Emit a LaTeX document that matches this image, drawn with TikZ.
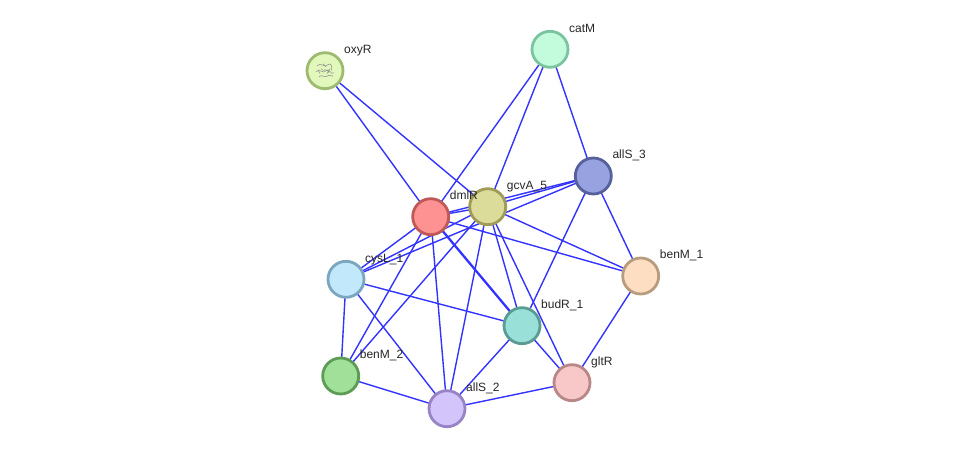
\documentclass[tikz,border=0pt]{standalone}
\usepackage{fontspec}
\setmainfont{Liberation Sans}
\usetikzlibrary{backgrounds}
\definecolor{edgeblue}{HTML}{3333FF}
\definecolor{oxyRd}{HTML}{9DBB6E}\definecolor{oxyRf}{HTML}{E2F7BC}
\definecolor{catMd}{HTML}{7CC4A0}\definecolor{catMf}{HTML}{C2FCDC}
\definecolor{allSthd}{HTML}{56619C}\definecolor{allSthf}{HTML}{98A2E0}
\definecolor{dmlRd}{HTML}{C05858}\definecolor{dmlRf}{HTML}{FE9292}
\definecolor{gcvAd}{HTML}{A09C58}\definecolor{gcvAf}{HTML}{DCDC9A}
\definecolor{cysLd}{HTML}{7BA6C0}\definecolor{cysLf}{HTML}{C2E8FC}
\definecolor{benMod}{HTML}{B89C80}\definecolor{benMof}{HTML}{FEDEC2}
\definecolor{budRd}{HTML}{5A9C94}\definecolor{budRf}{HTML}{98E0D8}
\definecolor{benMtd}{HTML}{5C9C54}\definecolor{benMtf}{HTML}{A0E098}
\definecolor{gltRd}{HTML}{B88888}\definecolor{gltRf}{HTML}{F8C8C8}
\definecolor{allStwd}{HTML}{9884C4}\definecolor{allStwf}{HTML}{D4C4FC}
\tikzset{
  prot/.style={circle, minimum size=36pt, inner sep=0pt, line width=2.8pt},
  lbl/.style={anchor=base west, font=\fontsize{12pt}{14pt}\selectfont, text=black!85, inner sep=0pt},
  link/.style={draw=edgeblue, line width=1.4pt},
  strong/.style={draw=edgeblue, line width=2.3pt}
}
\begin{document}
\begin{tikzpicture}[x=1pt,y=-1pt]
\useasboundingbox (0,0) rectangle (975,454);
% nodes
\node[prot, draw=oxyRd, fill=oxyRf] (oxyR) at (325,70.7) {};
\node[prot, draw=catMd, fill=catMf] (catM) at (550,49.3) {};
\node[prot, draw=allSthd, fill=allSthf] (allS3) at (593.3,176) {};
\node[prot, draw=dmlRd, fill=dmlRf] (dmlR) at (430.7,216.7) {};
\node[prot, draw=gcvAd, fill=gcvAf] (gcvA) at (487.7,206.7) {};
\node[prot, draw=cysLd, fill=cysLf] (cysL) at (346,279.3) {};
\node[prot, draw=benMod, fill=benMof] (benM1) at (640.7,276) {};
\node[prot, draw=budRd, fill=budRf] (budR) at (522,325.7) {};
\node[prot, draw=benMtd, fill=benMtf] (benM2) at (340.7,376) {};
\node[prot, draw=gltRd, fill=gltRf] (gltR) at (572,382.7) {};
\node[prot, draw=allStwd, fill=allStwf] (allS2) at (447,408.7) {};
% structure sketch inside oxyR
\begin{scope}[shift={(oxyR.center)}, line width=0.5pt]
  \draw[black!45] (-8,-5) .. controls (-4,-9) and (0,-2) .. (3,-6) .. controls (6,-9) and (8,-3) .. (6,0);
  \draw[black!45] (-9,1) .. controls (-5,-3) and (-2,4) .. (1,0) .. controls (4,-3) and (6,5) .. (9,2);
  \draw[black!45] (-6,6) .. controls (-3,3) and (0,8) .. (3,5) .. controls (5,3) and (7,7) .. (8,5);
  \draw[black!45] (-4,-2) .. controls (-2,2) and (2,-4) .. (4,2);
  \draw[black!45] (-7,-1) -- (-5,3) (2,3) -- (5,-2) (-2,-7) -- (1,-4);
\end{scope}
% labels
\node[lbl] (l-oxyR) at (344,53.7) {oxyR};
\node[lbl] (l-catM) at (569,32.3) {catM};
\node[lbl] (l-allS3) at (612.3,159) {allS\_3};
\node[lbl] (l-dmlR) at (449.7,199.7) {dmlR};
\node[lbl] (l-gcvA) at (506.7,189.7) {gcvA\_5};
\node[lbl] (l-cysL) at (365,262.3) {cysL\_1};
\node[lbl] (l-benM1) at (659.7,259) {benM\_1};
\node[lbl] (l-budR) at (541,308.7) {budR\_1};
\node[lbl] (l-benM2) at (359.7,359) {benM\_2};
\node[lbl] (l-gltR) at (591,365.7) {gltR};
\node[lbl] (l-allS2) at (466,391.7) {allS\_2};
% edges
\begin{pgfonlayer}{background}
\path[link] (oxyR.center) -- (dmlR.center);
\path[link] (oxyR.center) -- (gcvA.center);
\path[link] (catM.center) -- (dmlR.center);
\path[link] (catM.center) -- (gcvA.center);
\path[link] (catM.center) -- (allS3.center);
\path[link] (allS3.center) -- (gcvA.center);
\path[link] (allS3.center) -- (dmlR.center);
\path[link] (allS3.center) -- (cysL.center);
\path[link] (allS3.center) -- (budR.center);
\path[link] (allS3.center) -- (benM1.center);
\path[link] (gcvA.center) -- (dmlR.center);
\path[link] (gcvA.center) -- (cysL.center);
\path[link] (gcvA.center) -- (benM2.center);
\path[link] (gcvA.center) -- (allS2.center);
\path[link] (gcvA.center) -- (budR.center);
\path[link] (gcvA.center) -- (gltR.center);
\path[link] (gcvA.center) -- (benM1.center);
\path[link] (dmlR.center) -- (cysL.center);
\path[link] (dmlR.center) -- (benM2.center);
\path[link] (dmlR.center) -- (allS2.center);
\path[strong] (dmlR.center) -- (budR.center);
\path[link] (dmlR.center) -- (benM1.center);
\path[link] (cysL.center) -- (benM2.center);
\path[link] (cysL.center) -- (allS2.center);
\path[link] (cysL.center) -- (budR.center);
\path[link] (benM2.center) -- (allS2.center);
\path[link] (allS2.center) -- (budR.center);
\path[link] (allS2.center) -- (gltR.center);
\path[link] (budR.center) -- (gltR.center);
\path[link] (gltR.center) -- (benM1.center);
\end{pgfonlayer}
\end{tikzpicture}
\end{document}
